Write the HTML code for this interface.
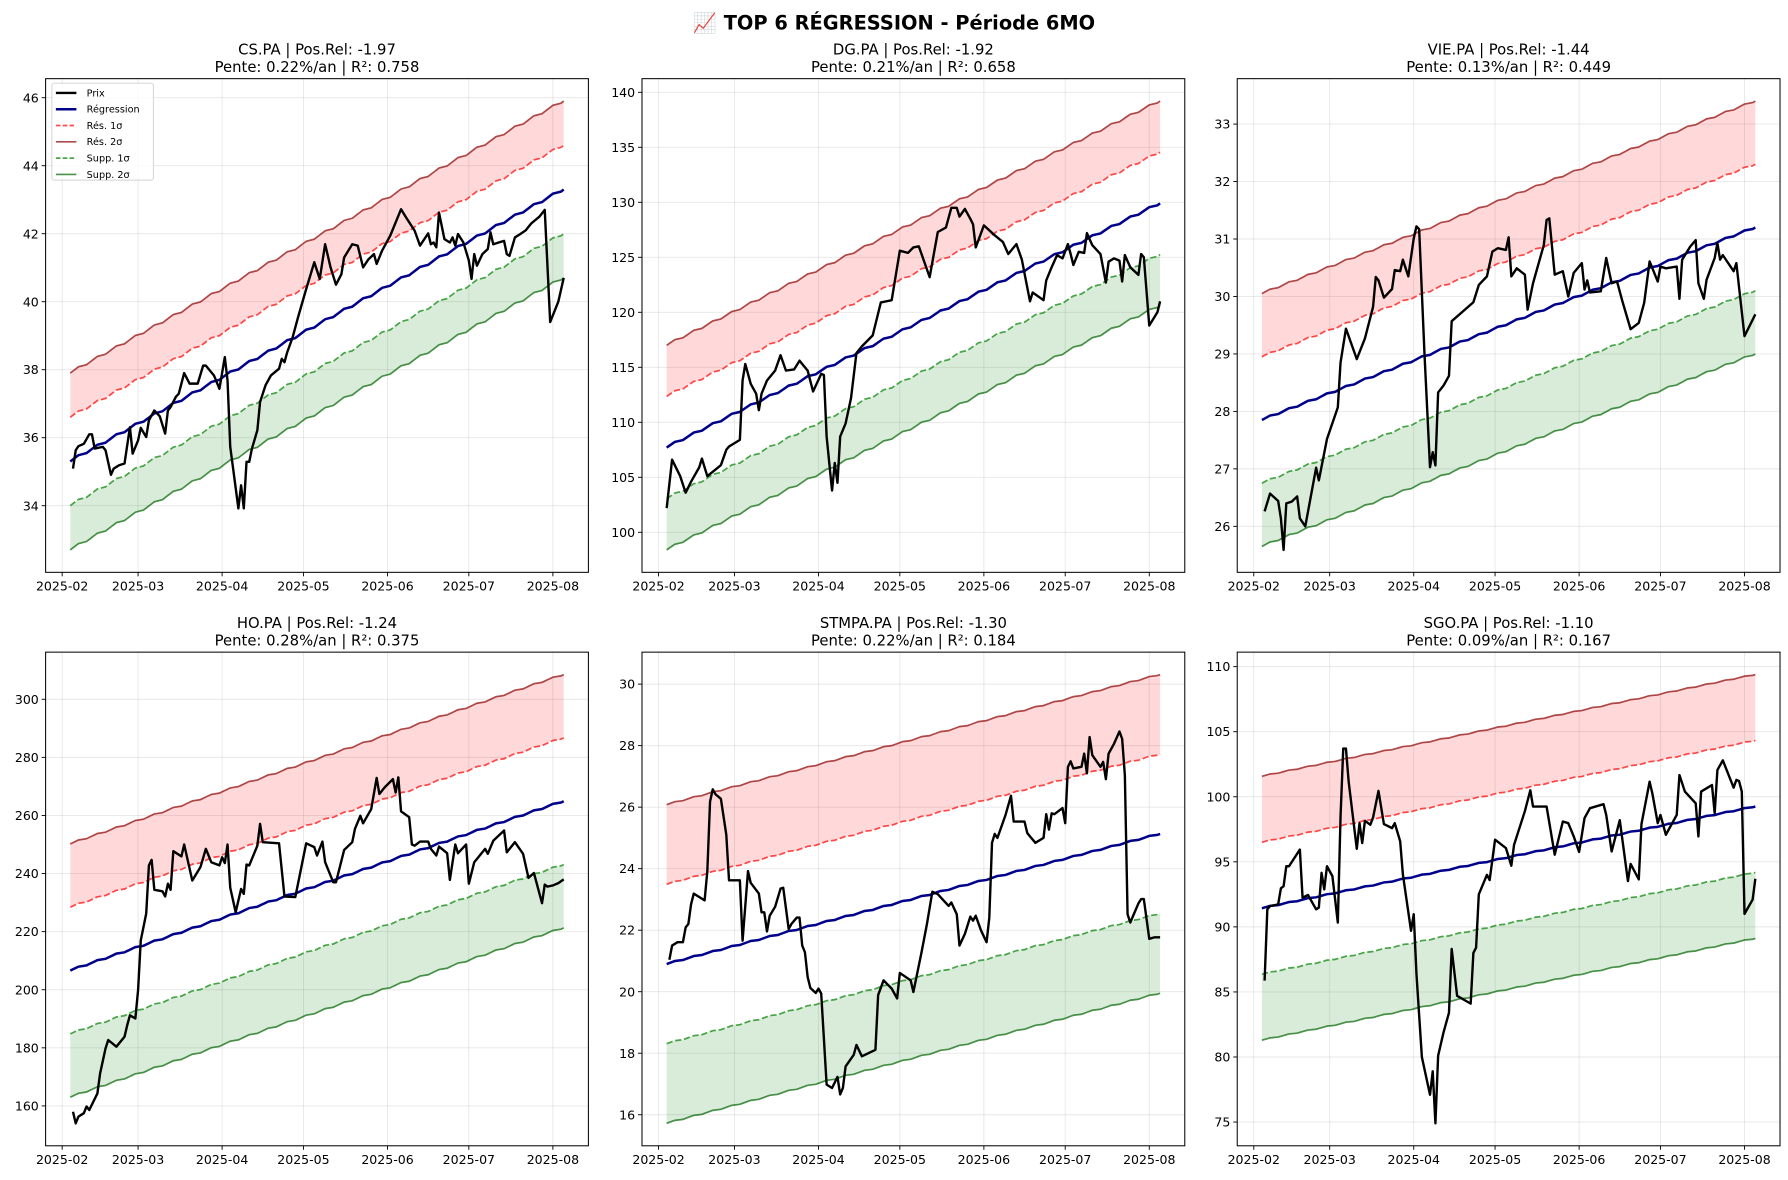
<!DOCTYPE html>
<html><head><meta charset="utf-8"><style>
html,body{margin:0;padding:0;background:#fff;}
svg{display:block;font-family:"DejaVu Sans","Liberation Sans",sans-serif;}
</style></head><body>
<svg id="fig" width="1788" height="1180" viewBox="0 0 1568 1035" preserveAspectRatio="none" xmlns="http://www.w3.org/2000/svg">
<rect width="1568" height="1035" fill="#fff"/>
<text x="784" y="26" text-anchor="middle" font-size="17" font-weight="bold">📈 TOP 6 RÉGRESSION - Période 6MO</text>
</svg>
<script>
// ---- data (days counted from 2025-02-01) ----
const monthLabels = ["2025-02","2025-03","2025-04","2025-05","2025-06","2025-07","2025-08"];
const monthDays = [0,28,59,89,120,150,181];
const tradeStart = 3, tradeEnd = 185;

const titles1 = ["CS.PA | Pos.Rel: -1.97","DG.PA | Pos.Rel: -1.92","VIE.PA | Pos.Rel: -1.44","HO.PA | Pos.Rel: -1.24","STMPA.PA | Pos.Rel: -1.30","SGO.PA | Pos.Rel: -1.10"];
const titles2 = ["Pente: 0.22%/an | R²: 0.758","Pente: 0.21%/an | R²: 0.658","Pente: 0.13%/an | R²: 0.449","Pente: 0.28%/an | R²: 0.375","Pente: 0.22%/an | R²: 0.184","Pente: 0.09%/an | R²: 0.167"];
const regStart = [35.3,107.7,27.85,206.6,20.9,91.43];
const regEnd = [43.3,129.9,31.2,264.9,25.13,99.25];
const sigma = [1.3,4.65,1.1,21.8,2.59,5.07];
const yTicks = [[34,36,38,40,42,44,46],[100,105,110,115,120,125,130,135,140],[26,27,28,29,30,31,32,33],[160,180,200,220,240,260,280,300],[16,18,20,22,24,26,28,30],[75,80,85,90,95,100,105,110]];

const p1Days = [4,5,6,8,10,11,12,15,16,18,19,21,23,25,26,28,29,31,32,34,36,38,39,40,42,43,45,47,50,52,53,56,58,60,61,62,65,66,67,68,69,70,72,73,75,77,80,81,82,83,85,87,90,93,95,97,99,101,103,104,107,109,111,113,115,116,118,121,125,127,130,132,135,136,137,138,139,141,143,144,145,146,148,150,151,152,153,155,157,158,159,161,163,164,165,167,169,171,173,176,178,180,183,185];
const p1Prices = [35.09,35.63,35.75,35.82,36.1,36.1,35.68,35.73,35.63,34.91,35.09,35.19,35.24,36.31,35.53,35.92,36.29,36.02,36.51,36.8,36.63,36.12,36.8,36.9,37.21,37.29,37.9,37.59,37.59,38.12,38.12,37.83,37.44,38.37,37.68,35.73,33.92,34.6,33.92,35.29,35.29,35.68,36.22,37.05,37.54,37.83,38.03,38.32,38.22,38.51,38.95,39.54,40.37,41.16,40.67,41.69,41.01,40.5,40.81,41.3,41.69,41.65,41.01,41.25,41.4,41.11,41.5,41.94,42.72,42.46,42.09,41.65,42.01,41.69,41.74,41.6,42.62,41.84,41.74,41.89,41.65,41.99,41.74,41.21,40.67,41.4,41.06,41.4,41.55,42.04,41.69,41.74,41.79,41.4,41.35,41.89,41.99,42.1,42.3,42.5,42.7,39.4,40.0,40.7];

const p2Days = [3,5,8,10,12,15,16,18,23,25,26,30,31,32,34,36,37,38,40,43,45,47,50,52,55,57,60,61,62,64,65,66,67,69,71,73,75,79,81,82,86,89,92,94,96,100,103,106,108,110,111,113,115,116,117,120,124,127,129,132,134,137,138,142,143,145,147,149,151,152,153,155,157,158,160,163,165,166,168,170,171,172,174,177,178,179,181,184,185];
const p2Prices = [102.2,106.6,105.1,103.6,104.6,105.9,106.7,105.1,106.1,107.5,107.8,108.4,113.8,115.3,113.5,112.6,111.1,112.6,113.8,114.7,116.1,114.7,114.8,115.6,114.7,112.8,114.4,114.3,108.7,103.8,106.3,104.5,108.7,109.9,112.2,116.3,116.9,117.9,119.9,120.9,121.1,125.6,125.4,125.9,126.0,123.2,127.3,127.7,129.5,129.5,128.7,129.4,128.5,128.0,125.9,127.9,127.0,126.4,125.3,126.2,124.8,121.0,121.8,121.1,122.9,124.1,125.2,124.9,126.2,125.3,124.3,125.5,125.4,127.2,126.1,125.3,122.7,124.6,124.9,124.7,122.8,125.2,124.1,123.4,125.3,125.0,118.8,120.0,121.0];

const p3Days = [4,6,9,10,11,12,14,16,17,19,23,24,27,31,32,34,38,41,44,45,46,48,51,52,54,55,57,59,60,61,63,65,66,67,68,70,72,73,81,83,86,88,90,93,94,95,97,100,101,103,107,108,109,111,114,116,118,121,122,123,124,128,130,132,134,136,139,142,144,146,149,150,152,156,157,158,161,163,164,166,167,170,171,172,173,177,178,181,185];
const p3Prices = [26.26,26.57,26.44,26.14,25.59,26.4,26.43,26.52,26.14,26.0,27.02,26.8,27.52,28.07,28.85,29.44,28.91,29.27,29.82,30.34,30.28,29.98,30.13,30.46,30.44,30.64,30.35,31.01,31.22,31.17,28.97,27.03,27.29,27.06,28.33,28.45,28.62,29.57,29.9,30.2,30.35,30.78,30.84,30.81,31.03,30.35,30.49,30.38,29.77,30.23,30.9,31.33,31.36,30.38,30.44,30.0,30.41,30.58,30.12,30.28,30.07,30.09,30.67,30.23,30.26,29.91,29.43,29.54,29.89,30.61,30.26,30.52,30.49,30.52,29.96,30.64,30.87,30.98,30.23,29.96,30.29,30.67,30.93,30.64,30.72,30.44,30.58,29.31,29.69];

const p4Days = [4,5,6,8,9,10,13,14,16,17,20,23,24,25,27,28,29,31,32,33,34,37,38,39,40,41,44,45,48,51,53,55,58,59,60,61,62,64,66,67,68,69,72,73,74,80,82,86,90,93,94,96,97,100,101,104,107,108,110,111,114,116,117,119,122,123,124,125,128,129,130,132,135,136,138,139,142,143,145,146,149,150,152,156,157,159,163,164,167,170,172,174,177,178,179,181,183,185];
const p4Prices = [158.0,154.0,156.3,157.5,159.8,158.6,164.3,171.2,179.8,182.7,180.4,183.8,187.8,191.2,190.1,199.8,217.0,226.2,242.8,244.7,234.4,233.9,232.1,236.5,234.4,247.7,245.9,250.0,237.6,242.2,248.5,243.9,242.8,245.6,243.6,250.0,235.1,226.7,234.7,233.0,243.1,242.8,249.6,257.1,250.8,250.4,232.1,231.9,250.4,249.1,246.2,251.0,243.9,237.0,237.0,248.1,250.8,255.4,259.9,257.3,262.2,272.9,267.4,269.7,272.5,267.9,273.1,261.4,259.4,250.0,249.6,251.0,251.0,248.5,246.2,249.3,247.0,237.8,250.0,247.0,250.0,236.5,243.9,248.5,246.8,251.3,254.8,247.3,250.8,246.8,238.5,240.2,229.8,236.2,235.5,235.9,236.7,238.0];

const p5Days = [4,5,7,9,10,11,12,13,15,17,18,19,20,21,23,25,26,27,30,31,33,34,37,38,39,40,41,43,45,46,48,49,51,52,53,54,55,56,58,59,60,62,64,66,67,68,69,72,73,75,80,81,83,86,88,89,93,94,95,97,99,101,103,107,108,110,111,113,115,116,117,119,121,122,123,124,125,128,130,131,135,136,137,139,142,143,144,145,146,149,150,151,152,153,156,157,158,159,160,163,164,165,166,168,170,171,172,173,174,177,178,179,181,183,185];
const p5Prices = [21.04,21.5,21.61,21.61,22.09,22.2,22.84,23.19,23.08,22.97,23.92,26.18,26.58,26.42,26.27,25.1,23.62,23.62,23.62,21.66,23.92,23.54,23.19,22.58,22.58,21.96,22.47,22.76,23.35,23.38,22.04,22.2,22.41,22.41,21.5,21.28,20.48,20.12,19.96,20.1,19.94,16.98,16.87,17.23,16.66,16.87,17.57,17.95,18.27,17.9,18.11,19.89,20.37,20.1,19.78,20.61,20.37,19.99,20.42,21.28,22.2,23.25,23.17,22.79,22.9,22.52,21.5,21.88,22.44,22.31,22.47,21.98,21.61,22.41,24.84,25.13,25.0,25.75,26.37,25.53,25.53,25.16,25.05,24.84,25.0,25.77,25.27,25.8,25.77,25.97,25.48,27.31,27.49,27.26,27.31,27.74,27.1,28.28,27.69,27.31,27.47,26.91,27.74,28.06,28.46,28.22,27.04,22.52,22.25,22.87,23.01,23.01,21.72,21.77,21.77];

const p6Days = [4,5,6,9,10,11,12,13,17,18,20,23,24,25,26,27,29,31,32,33,34,35,38,39,40,41,43,44,46,48,51,52,54,55,58,59,60,62,65,66,67,68,70,72,73,75,80,81,82,83,86,87,89,93,95,96,100,102,103,108,111,114,116,118,120,122,124,129,130,132,135,138,139,142,143,146,147,149,150,152,156,157,159,163,164,165,169,170,171,173,177,178,179,180,181,184,185];
const p6Prices = [85.87,91.35,91.6,91.73,92.96,93.13,94.66,94.66,95.94,92.24,92.45,91.35,91.48,94.15,92.88,94.66,93.9,90.33,98.48,103.7,103.7,101.16,96.0,97.97,96.44,98.15,97.85,98.41,100.45,97.9,97.59,97.97,96.57,94.03,89.7,90.97,86.4,80.0,77.1,78.9,74.9,80.1,81.9,83.4,88.3,84.7,84.1,88.0,88.4,92.5,94.0,93.6,96.7,96.06,94.7,96.3,98.9,100.5,99.25,99.25,95.55,98.1,97.97,96.96,95.76,98.36,99.12,99.43,98.6,95.8,98.2,93.52,94.84,93.65,97.9,101.16,100.27,97.97,98.6,97.08,98.6,101.67,100.4,99.5,96.95,100.4,100.9,98.74,102.05,102.8,100.7,101.3,101.2,100.4,91.0,92.1,93.7];

const allDays = [p1Days,p2Days,p3Days,p4Days,p5Days,p6Days];
const allPrices = [p1Prices,p2Prices,p3Prices,p4Prices,p5Prices,p6Prices];

// ---- layout ----
const NS = "http://www.w3.org/2000/svg";
const svg = document.getElementById("fig");
const axW = 476, axH = 433;
const lefts = [40,563,1085], tops = [69,572];

function mk(tag, attrs, parent){
  const e = document.createElementNS(NS, tag);
  for (const k in attrs) e.setAttribute(k, attrs[k]);
  (parent||svg).appendChild(e);
  return e;
}

// trading days
const tdays = [];
for (let d = tradeStart; d <= tradeEnd; d++) if (d % 7 >= 2) tdays.push(d);

for (let p = 0; p < 6; p++) {
  const L = lefts[p % 3], T = tops[Math.floor(p / 3)];
  const g = mk("g", {});
  
  

  // regression + bands
  const n = tdays.length;
  const reg = tdays.map((d, i) => regStart[p] + (regEnd[p] - regStart[p]) * i / (n - 1));
  const s = sigma[p];
  let ymin = Infinity, ymax = -Infinity;
  reg.forEach(v => { ymin = Math.min(ymin, v - 2 * s); ymax = Math.max(ymax, v + 2 * s); });
  allPrices[p].forEach(v => { ymin = Math.min(ymin, v); ymax = Math.max(ymax, v); });
  const yr = ymax - ymin; ymin -= 0.05 * yr; ymax += 0.05 * yr;
  const x0 = tradeStart - 0.05 * (tradeEnd - tradeStart), x1 = tradeEnd + 0.05 * (tradeEnd - tradeStart);
  const X = d => L + (d - x0) / (x1 - x0) * axW;
  const Y = v => T + (ymax - v) / (ymax - ymin) * axH;

  // titles
  const t1 = mk("text", {x: L + axW / 2, y: T - 21, "text-anchor": "middle", "font-size": 13}, g);
  t1.textContent = titles1[p];
  
  
  const t2 = mk("text", {x: L + axW / 2, y: T - 6, "text-anchor": "middle", "font-size": 13}, g);
  t2.textContent = titles2[p];
  
  

  // grid + ticks
  monthDays.forEach((md, i) => {
    const x = X(md);
    const gl = mk("line", {x1: x, x2: x, y1: T, y2: T + axH, stroke: "#b0b0b0", "stroke-opacity": 0.3, "stroke-width": 0.8}, g);
    
    
    mk("line", {x1: x, x2: x, y1: T + axH, y2: T + axH + 3.5, stroke: "#000", "stroke-width": 0.8}, g);
    const tl = mk("text", {x: x, y: T + axH + 16, "text-anchor": "middle", "font-size": 11}, g);
    tl.textContent = monthLabels[i];
    
    
  });
  yTicks[p].forEach(v => {
    const y = Y(v);
    const gl = mk("line", {x1: L, x2: L + axW, y1: y, y2: y, stroke: "#b0b0b0", "stroke-opacity": 0.3, "stroke-width": 0.8}, g);
    
    
    mk("line", {x1: L - 3.5, x2: L, y1: y, y2: y, stroke: "#000", "stroke-width": 0.8}, g);
    const tl = mk("text", {x: L - 6, y: y + 4, "text-anchor": "end", "font-size": 11}, g);
    tl.textContent = String(v);
    
    
  });

  // fills
  const pts = (off) => tdays.map((d, i) => X(d).toFixed(2) + "," + Y(reg[i] + off).toFixed(2));
  const band = (a, b) => pts(a).concat(pts(b).reverse()).join(" ");
  const rf = mk("polygon", {points: band(s, 2 * s), fill: "#ff0000", "fill-opacity": 0.15, stroke: "none"}, g);
  
  
  const gf = mk("polygon", {points: band(-s, -2 * s), fill: "#008000", "fill-opacity": 0.15, stroke: "none"}, g);
  
  

  const lines = [
    [2 * s, "#8b0000", "", "resistance-2sigma"],
    [s, "#ff0000", "5.5,2.4", "resistance-1sigma"],
    [-s, "#008000", "5.5,2.4", "support-1sigma"],
    [-2 * s, "#006400", "", "support-2sigma"]
  ];
  lines.forEach(ln => {
    const pl = mk("polyline", {points: pts(ln[0]).join(" "), fill: "none", stroke: ln[1], "stroke-opacity": 0.7, "stroke-width": 1.5, "stroke-dasharray": ln[2]}, g);
    
    
  });
  const rl = mk("polyline", {points: pts(0).join(" "), fill: "none", stroke: "#00008b", "stroke-width": 2.2}, g);
  
  

  const pp = allDays[p].map((d, i) => X(d).toFixed(2) + "," + Y(allPrices[p][i]).toFixed(2)).join(" ");
  const pl = mk("polyline", {points: pp, fill: "none", stroke: "#000", "stroke-width": 2.1, "stroke-linejoin": "round"}, g);
  
  

  const fr = mk("rect", {x: L, y: T, width: axW, height: axH, fill: "none", stroke: "#000", "stroke-width": 0.9}, g);
  
  
}

// legend in first subplot
const legLabels = ["Prix","Régression","Rés. 1σ","Rés. 2σ","Supp. 1σ","Supp. 2σ"];
const legColors = ["#000","#00008b","#ff0000","#8b0000","#008000","#006400"];
const legDash = ["","","4,2","","4,2",""];
const legWidth = [2.1,2.2,1.5,1.5,1.5,1.5];
const legOpacity = [1,1,0.7,0.7,0.7,0.7];
const lg = mk("g", {});


mk("rect", {x: 45.5, y: 73, width: 89, height: 85, rx: 2, fill: "#fff", "fill-opacity": 0.8, stroke: "#d0d0d0", "stroke-width": 0.8}, lg);
legLabels.forEach((lab, i) => {
  const y = 81.5 + i * 14.3;
  const e = mk("g", {}, lg);
  
  
  mk("line", {x1: 49, x2: 67, y1: y, y2: y, stroke: legColors[i], "stroke-width": legWidth[i], "stroke-opacity": legOpacity[i], "stroke-dasharray": legDash[i]}, e);
  const t = mk("text", {x: 76, y: y + 3, "font-size": 8.5}, e);
  t.textContent = lab;
});
</script>
</body></html>
